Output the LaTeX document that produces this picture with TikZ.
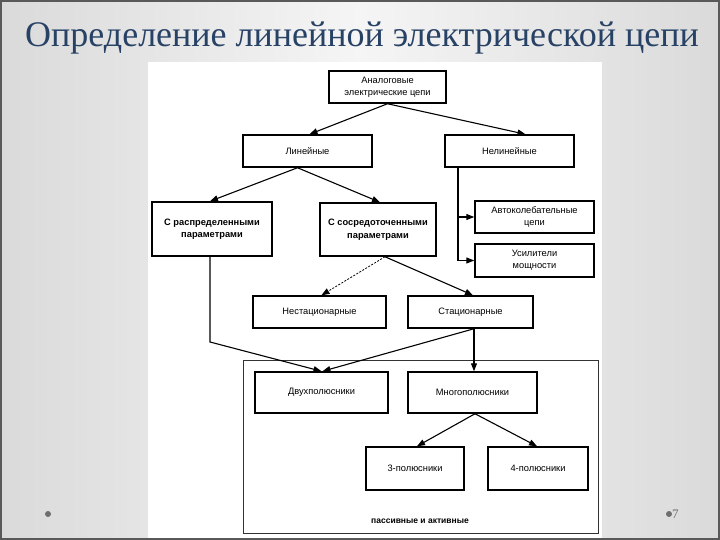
\documentclass[tikz,border=0pt]{standalone}
\usepackage{fontspec}
\setmainfont{Liberation Serif}
\setsansfont{Liberation Sans}
\usetikzlibrary{arrows.meta}
\definecolor{titleblue}{RGB}{40,66,102}
\definecolor{bgedge}{RGB}{218,218,218}
\definecolor{bgmid}{RGB}{245,245,245}
\definecolor{dotgray}{RGB}{110,110,110}
\begin{document}
\begin{tikzpicture}[x=1pt,y=-1pt,
  box/.style={draw=black, line width=1.5pt, fill=white, align=center, inner sep=0pt,
    font=\sffamily\fontsize{9.3}{12}\selectfont},
  bbox/.style={box, font=\sffamily\bfseries\fontsize{9.3}{12.5}\selectfont},
  tip/.tip={Triangle[length=8pt,width=6pt]},
  conn/.style={line width=1.1pt, -tip},
  dconn/.style={line width=0.8pt, dash pattern=on 2pt off 1.5pt, -tip},
  plain/.style={line width=1.1pt}]
\useasboundingbox (0,0) rectangle (720,540);
% slide background
\shade[left color=bgedge, right color=bgedge, middle color=bgmid] (0,0) rectangle (720,540);
\draw[line width=2pt, color=black!65] (1,1) rectangle (719,539);
% scanned image area
\fill[white] (148,62) rectangle (602,538);
% title
\node[font=\fontsize{36}{42}\selectfont, text=titleblue] (title) at (362,38) {Определение линейной электрической цепи};
% footer
\fill[dotgray] (48,514) circle (3);
\fill[dotgray] (669,514) circle (3);
\node[anchor=west, font=\fontsize{13}{13}\selectfont, text=dotgray, inner sep=0pt] (pnum) at (672,514) {7};
% frame
\draw[line width=1pt, color=black!80] (243,360) rectangle (598,533);
% boxes
\node[box, minimum width=117pt, minimum height=32pt] (a) at (387.5,87) {Аналоговые\\электрические цепи};
\node[box, minimum width=129pt, minimum height=32pt] (lin) at (307.5,151) {Линейные};
\node[box, minimum width=129pt, minimum height=32pt] (nonlin) at (509.5,151) {Нелинейные};
\node[bbox, minimum width=120pt, minimum height=54pt] (raspr) at (212,229) {С распределенными\\параметрами};
\node[bbox, minimum width=116pt, minimum height=53pt] (sosr) at (378,229.5) {С сосредоточенными\\параметрами};
\node[box, minimum width=119pt, minimum height=32pt] (avto) at (534.5,217) {Автоколебательные\\цепи};
\node[box, minimum width=119pt, minimum height=33pt] (usil) at (534.5,260.5) {Усилители\\мощности};
\node[box, minimum width=133pt, minimum height=32pt] (nestat) at (319.5,312) {Нестационарные};
\node[box, minimum width=125pt, minimum height=32pt] (stat) at (470.5,312) {Стационарные};
\node[box, minimum width=133pt, minimum height=41pt] (dvuh) at (321.5,392.5) {Двухполюсники};
\node[box, minimum width=129pt, minimum height=41pt] (mnogo) at (472.5,392.5) {Многополюсники};
\node[box, minimum width=98pt, minimum height=43pt] (p3) at (415,468.5) {3-полюсники};
\node[box, minimum width=100pt, minimum height=43pt] (p4) at (538,468.5) {4-полюсники};
\node[font=\sffamily\bfseries\fontsize{8.5}{10}\selectfont, inner sep=0pt] (pa) at (420,521) {пассивные и активные};
% connectors
\draw[conn] (a.south) -- ([xshift=2pt]lin.north);
\draw[conn] (a.south) -- ([xshift=16pt]nonlin.north);
\draw[conn] ([xshift=-10pt]lin.south) -- ([xshift=-2pt]raspr.north);
\draw[conn] ([xshift=-10pt]lin.south) -- ([xshift=2pt]sosr.north);
\coordinate (nlb) at ([xshift=-51.5pt]nonlin.south);
\draw[conn] (nlb) |- (usil.west);
\draw[conn] (nlb) |- (avto.west);
\draw[dconn] ([xshift=7pt]sosr.south) -- ([xshift=2pt]nestat.north);
\draw[conn] ([xshift=7pt]sosr.south) -- ([xshift=2.5pt]stat.north);
\coordinate (rb) at ([xshift=-2pt]raspr.south);
\coordinate (rk) at (210,342);
\draw[conn] (rb) -- (rk) -- (dvuh.north);
\coordinate (sb) at ([xshift=3.5pt]stat.south);
\draw[conn] (sb) -- ([xshift=1pt]dvuh.north);
\draw[conn] (sb) -- (sb |- mnogo.north);
\draw[conn] ([xshift=2.5pt]mnogo.south) -- ([xshift=2pt]p3.north);
\draw[conn] ([xshift=2.5pt]mnogo.south) -- ([xshift=-1pt]p4.north);
\end{tikzpicture}
\end{document}
